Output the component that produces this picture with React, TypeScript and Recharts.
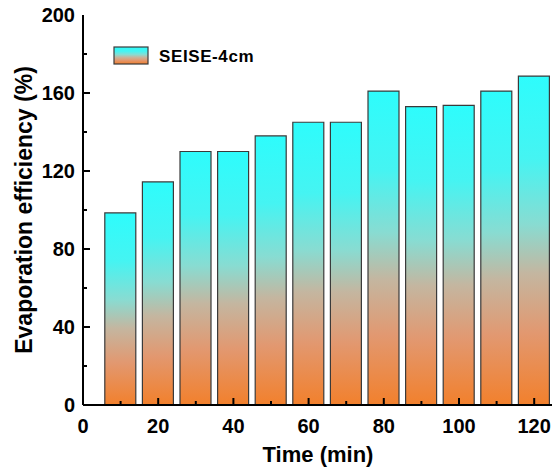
import { BarChart, Bar, XAxis, YAxis, Legend } from 'recharts';

const times = [10, 20, 30, 40, 50, 60, 70, 80, 90, 100, 110, 120];
const efficiency = [98.5, 114.4, 130, 130, 138, 145, 145, 161, 153, 153.7, 161, 168.7];
const xTicks = [0, 10, 20, 30, 40, 50, 60, 70, 80, 90, 100, 110, 120];
const yTicks = [0, 20, 40, 60, 80, 100, 120, 140, 160, 180, 200];
const seriesName = 'SEISE-4cm';

const data = times.map((t, i) => ({ time: t, value: efficiency[i] }));

const FONT = "'Liberation Sans', Arial, sans-serif";

function XTick(props: any) {
  const { x, y, payload } = props;
  const v = payload.value;
  const major = v % 20 === 0;
  return (
    <g>
      {v !== 0 && (
        <line x1={x} x2={x} y1={y} y2={y - (major ? 7 : 4)} stroke="#000" strokeWidth={2} />
      )}
      {major && (
        <text x={x} y={y + 28} textAnchor="middle" fontFamily={FONT} fontWeight="bold" fontSize={20} fill="#000">
          {v}
        </text>
      )}
    </g>
  );
}

function YTick(props: any) {
  const { x, y, payload } = props;
  const v = payload.value;
  const major = v % 40 === 0;
  return (
    <g>
      {v !== 0 && v !== 200 && (
        <line x1={x} x2={x + (major ? 7 : 4)} y1={y} y2={y} stroke="#000" strokeWidth={2} />
      )}
      {major && (
        <text x={x - 8} y={y + 7} textAnchor="end" fontFamily={FONT} fontWeight="bold" fontSize={20} fill="#000">
          {v}
        </text>
      )}
    </g>
  );
}

function LegendBox() {
  return (
    <svg width={170} height={22}>
      <rect x={1} y={2} width={34} height={17} fill="url(#barGrad)" stroke="#3a3a3a" strokeWidth={1.2} />
      <text x={46} y={17} fontFamily={FONT} fontWeight="bold" fontSize={17} letterSpacing={0.6} fill="#000">
        {seriesName}
      </text>
    </svg>
  );
}

export default function App() {
  return (
    <div style={{ position: 'absolute', left: 0, top: 0 }}>
      <BarChart width={552} height={473} data={data} margin={{ top: 15, right: -1, bottom: 0, left: 0 }}>
        <defs>
          <linearGradient id="barGrad" x1="0" y1="0" x2="0" y2="1">
            <stop offset="0%" stopColor="#2efcfc" />
            <stop offset="25%" stopColor="#45f4f2" />
            <stop offset="45%" stopColor="#88dcd2" />
            <stop offset="60%" stopColor="#c4b6a0" />
            <stop offset="78%" stopColor="#e29870" />
            <stop offset="100%" stopColor="#f2802c" />
          </linearGradient>
        </defs>
        <Bar
          dataKey="value"
          xAxisId="main"
          name={seriesName}
          barSize={31}
          fill="url(#barGrad)"
          stroke="#3a3a3a"
          strokeWidth={1.2}
          isAnimationActive={false}
        />
        <XAxis
          xAxisId="main"
          dataKey="time"
          type="number"
          domain={[0, 125]}
          ticks={xTicks}
          interval={0}
          height={68}
          tickSize={0}
          tickMargin={0}
          tick={<XTick />}
          axisLine={{ stroke: '#000', strokeWidth: 2 }}
          tickLine={false}
          label={{
            content: (p: any) => {
              const { x, y, width } = p.viewBox;
              return (
                <text x={x + width / 2} y={y + 57} textAnchor="middle" fontFamily={FONT} fontWeight="bold" fontSize={22} fill="#000">
                  Time (min)
                </text>
              );
            },
          }}
        />
        <XAxis
          xAxisId="top"
          orientation="top"
          dataKey="time"
          type="number"
          domain={[0, 125]}
          height={0}
          tick={false}
          tickLine={false}
          axisLine={{ stroke: '#000', strokeWidth: 2 }}
        />
        <YAxis
          type="number"
          domain={[0, 200]}
          ticks={yTicks}
          interval={0}
          width={83}
          tickSize={0}
          tickMargin={0}
          tick={<YTick />}
          axisLine={{ stroke: '#000', strokeWidth: 2 }}
          tickLine={false}
          label={{
            content: (p: any) => {
              const { x, y, height } = p.viewBox;
              const cx = x + 24;
              const cy = y + height / 2;
              return (
                <text
                  x={cx}
                  y={cy}
                  transform={`rotate(-90 ${cx} ${cy})`}
                  textAnchor="middle"
                  dominantBaseline="central"
                  fontFamily={FONT}
                  fontWeight="bold"
                  fontSize={23}
                  fill="#000"
                >
                  Evaporation efficiency (%)
                </text>
              );
            },
          }}
        />
        <Legend
          layout="vertical"
          align="center"
          verticalAlign="middle"
          content={<LegendBox />}
          wrapperStyle={{ left: 113, top: 45, width: 170, height: 22 }}
        />
      </BarChart>
    </div>
  );
}
